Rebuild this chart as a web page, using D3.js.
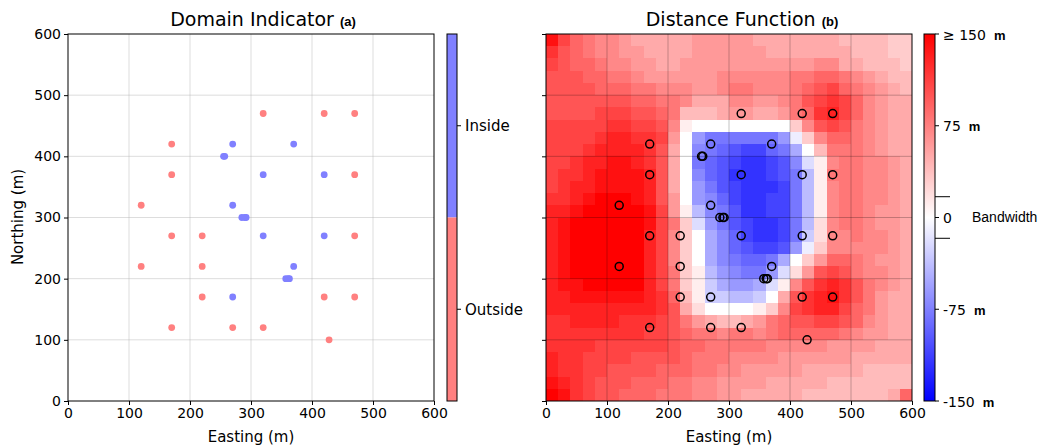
<!DOCTYPE html>
<html>
<head>
<meta charset="utf-8">
<script src="https://cdn.jsdelivr.net/npm/d3@7"></script>
<style>
  body { margin: 0; background: #fff; }
  text { font-family: "DejaVu Sans", sans-serif; fill: #000; }
</style>
</head>
<body>
<svg id="chart" width="1043" height="448"></svg>
<script>
// ---- sample locations (metres) and their domain classification ----
const sampleEasting  = [320, 420, 470, 170, 170, 470, 120, 170, 220, 470, 120, 220, 220, 420, 470, 170, 270, 320, 428,
                        270, 370, 255, 257, 320, 420, 270, 285, 290, 292, 320, 420, 370, 357, 361, 363, 270];
const sampleNorthing = [470, 470, 470, 420, 370, 370, 320, 270, 270, 270, 220, 220, 170, 170, 170, 120, 120, 120, 100,
                        420, 420, 400, 400, 370, 370, 320, 300, 300, 300, 270, 270, 220, 200, 200, 200, 170];
const sampleDomain   = ["Outside", "Outside", "Outside", "Outside", "Outside", "Outside", "Outside", "Outside", "Outside",
                        "Outside", "Outside", "Outside", "Outside", "Outside", "Outside", "Outside", "Outside", "Outside", "Outside",
                        "Inside", "Inside", "Inside", "Inside", "Inside", "Inside", "Inside", "Inside", "Inside", "Inside",
                        "Inside", "Inside", "Inside", "Inside", "Inside", "Inside", "Inside"];

// ---- axis ticks ----
const eastingTicks  = [0, 100, 200, 300, 400, 500, 600];
const northingTicks = [0, 100, 200, 300, 400, 500, 600];
const domainCategories = ["Inside", "Outside"];
const distanceTicks = [150, 75, 0, -75, -150];
const distanceTickLabels = ["\u2265 150", "75", "0", "-75", "-150"];
const bandwidth = 17;

// ---- signed distance grid, rows from north (600 m) to south (0 m), 20 m cells ----
// '0'-'9','A'-'F' = 0..150 m in 10 m steps (outside); 'a'-'o' = -10..-150 m (inside)
const distanceRows = [
  "EB987765555566666555" + "5555444433",
  "CA987766555566666655" + "5555544433",
  "BA998776655666666666" + "6677554443",
  "AAA99887666666777777" + "8899876544",
  "AAAA9998877766788777" + "89AB987654",
  "AAAAAAA9988755577667" + "8ABCB97655",
  "AAAABBBAA98444566556" + "89CDB97655",
  "BBBBBCCBBA7100000000" + "37ABA87655",
  "BBBBCDDCCB60fhhhhhhf" + "a379987655",
  "BBBCDDDDCA50ghijkkih" + "e048887655",
  "BBCDDEEDCA50hijkllkj" + "gb17887765",
  "BCCDEEEEDA50gijlllkj" + "hd18887765",
  "BCDDEEEEDA50fhjklllk" + "hd17887765",
  "CCDEFFFEDA60fgikllkk" + "hd17887765",
  "DDEFFFFFEB61dghjllkk" + "hd17887665",
  "DEFFFFFFEB83bfhjkllk" + "hd27887665",
  "DEFFFFFFDB730egikllk" + "hc27787765",
  "DEFFFFFFDB730egijkkj" + "fa37777765",
  "DEFFFFFFDB730eghiihe" + "0369987665",
  "DEFFFFFFDB831dfghhfb" + "26ABA87765",
  "DEEFFFFFDB831ceffeb1" + "7ACDCA8765",
  "DDEEEEEEDC941ccddc05" + "ACDECA8655",
  "DDDDDDDDDCA520000137" + "BCDDB98655",
  "CCDDDDCCCBA865445689" + "AABBA97655",
  "CCCCCCCCBBA988788789" + "9999876655",
  "CCCCBBBBBBA998888877" + "7776666555",
  "DCCBBBBAAAA988877776" + "6666655555",
  "DCCBBAAAA99988776666" + "6555554444",
  "EDCBAAA9998877666655" + "5554444444",
  "FECBAA99988877665555" + "5444444459"
];

function decodeDistance(ch) {
  if (/[0-9A-F]/.test(ch)) return parseInt(ch, 16) * 10;
  return -(ch.charCodeAt(0) - 96) * 10;
}

// ---- layout ----
const svg = d3.select("#chart");
const plotTop = 34, plotBottom = 401;
const panelA = { left: 68, right: 434 };
const panelB = { left: 546, right: 912 };
const tickFont = 14;

const yScale = d3.scaleLinear().domain([0, 600]).range([plotBottom, plotTop]);
const xA = d3.scaleLinear().domain([0, 600]).range([panelA.left, panelA.right]);
const xB = d3.scaleLinear().domain([0, 600]).range([panelB.left, panelB.right]);

const domainColor = d3.scaleOrdinal().domain(domainCategories).range(["#8080ff", "#ff8080"]);
const distColor = d3.scaleLinear().domain([-150, 0, 150])
  .range(["#0000ff", "#ffffff", "#ff0000"]).clamp(true);

function styleAxis(g) {
  g.select(".domain").remove();
  g.selectAll(".tick line").attr("stroke", "#000").attr("stroke-width", 1);
  g.selectAll(".tick text").style("font-size", tickFont + "px").style("font-family", "DejaVu Sans");
}

function drawAxes(x, withYLabels) {
  svg.append("g").attr("transform", `translate(0,${plotBottom})`)
    .call(d3.axisBottom(x).tickValues(eastingTicks).tickSize(4).tickPadding(3))
    .call(styleAxis);
  const ax = d3.axisLeft(yScale).tickValues(northingTicks).tickSize(4).tickPadding(3);
  if (!withYLabels) ax.tickFormat("");
  svg.append("g").attr("transform", `translate(${x.range()[0]},0)`)
    .call(ax).call(styleAxis);
}

function drawGrid(x, color, opacity) {
  const g = svg.append("g").attr("stroke", color).attr("stroke-opacity", opacity).attr("stroke-width", 0.8);
  eastingTicks.slice(1, -1).forEach(v => {
    g.append("line").attr("x1", x(v)).attr("x2", x(v)).attr("y1", plotTop).attr("y2", plotBottom);
  });
  northingTicks.slice(1, -1).forEach(v => {
    g.append("line").attr("x1", x.range()[0]).attr("x2", x.range()[1]).attr("y1", yScale(v)).attr("y2", yScale(v));
  });
}

function drawFrame(x) {
  svg.append("rect").attr("x", x.range()[0]).attr("y", plotTop)
    .attr("width", x.range()[1] - x.range()[0]).attr("height", plotBottom - plotTop)
    .attr("fill", "none").attr("stroke", "#000").attr("stroke-width", 1);
}

function drawTitle(cx, main, tag) {
  const t = svg.append("text").attr("x", cx).attr("y", 26).attr("text-anchor", "middle");
  t.append("tspan").style("font-size", "19px").text(main);
  t.append("tspan").attr("dx", 6).style("font-size", "13px").style("font-weight", "bold")
    .style("font-family", "Liberation Sans, Arial, sans-serif").text(tag);
}

const samples = sampleEasting.map((e, i) => ({ e, n: sampleNorthing[i], d: sampleDomain[i] }));

// ================= panel (a): domain indicator =================
drawGrid(xA, "#b0b0b0", 0.55);
svg.append("g").selectAll("circle").data(samples).join("circle")
  .attr("cx", d => xA(d.e)).attr("cy", d => yScale(d.n)).attr("r", 3.4)
  .attr("fill", d => domainColor(d.d));
drawFrame(xA);
drawAxes(xA, true);
drawTitle(263, "Domain Indicator", "(a)");

svg.append("text").attr("x", 251).attr("y", 442).attr("text-anchor", "middle")
  .style("font-size", "15px").text("Easting (m)");
svg.append("text").attr("transform", "translate(23,217) rotate(-90)").attr("text-anchor", "middle")
  .style("font-size", "15px").text("Northing (m)");

// categorical colour bar
const cbA = { left: 447, right: 457 };
const band = d3.scaleBand().domain(domainCategories).range([plotTop, plotBottom]);
svg.append("g").selectAll("rect").data(domainCategories).join("rect")
  .attr("x", cbA.left).attr("y", d => band(d)).attr("width", cbA.right - cbA.left)
  .attr("height", band.bandwidth()).attr("fill", d => domainColor(d));
svg.append("rect").attr("x", cbA.left).attr("y", plotTop).attr("width", cbA.right - cbA.left)
  .attr("height", plotBottom - plotTop).attr("fill", "none").attr("stroke", "#000");
domainCategories.forEach(c => {
  const yc = band(c) + band.bandwidth() / 2;
  svg.append("line").attr("x1", cbA.right).attr("x2", cbA.right + 4).attr("y1", yc).attr("y2", yc).attr("stroke", "#000");
  svg.append("text").attr("x", cbA.right + 8).attr("y", yc).attr("dy", "0.35em")
    .style("font-size", "15px").text(c);
});

// ================= panel (b): distance function =================
svg.append("clipPath").attr("id", "clipB").append("rect")
  .attr("x", panelB.left).attr("y", plotTop).attr("width", panelB.right - panelB.left).attr("height", plotBottom - plotTop);
const heat = svg.append("g").attr("clip-path", "url(#clipB)").attr("shape-rendering", "crispEdges");
const nCols = distanceRows[0].length, nRows = distanceRows.length;
const cellE = 600 / nCols, cellN = 600 / nRows;
const cells = [];
distanceRows.forEach((row, ri) => {
  for (let ci = 0; ci < nCols; ci++) {
    cells.push({ e0: ci * cellE, n1: 600 - ri * cellN, v: decodeDistance(row[ci]) });
  }
});
heat.selectAll("rect").data(cells).join("rect")
  .attr("x", d => xB(d.e0)).attr("y", d => yScale(d.n1))
  .attr("width", d => xB(d.e0 + cellE) - xB(d.e0) + 0.7)
  .attr("height", d => yScale(d.n1 - cellN) - yScale(d.n1) + 0.7)
  .attr("fill", d => distColor(d.v));

drawGrid(xB, "#000", 0.3);
svg.append("g").selectAll("circle").data(samples).join("circle")
  .attr("cx", d => xB(d.e)).attr("cy", d => yScale(d.n)).attr("r", 4)
  .attr("fill", "none").attr("stroke", "#000").attr("stroke-width", 1.5);
drawFrame(xB);
drawAxes(xB, false);
drawTitle(742, "Distance Function", "(b)");
svg.append("text").attr("x", 729).attr("y", 442).attr("text-anchor", "middle")
  .style("font-size", "15px").text("Easting (m)");

// continuous colour bar
const cbB = { left: 924, right: 935 };
const cbScale = d3.scaleLinear().domain([-150, 150]).range([plotBottom, plotTop]);
const grad = svg.append("defs").append("linearGradient").attr("id", "distGrad")
  .attr("x1", 0).attr("y1", 1).attr("x2", 0).attr("y2", 0);
d3.range(-150, 151, 30).forEach(v => {
  grad.append("stop").attr("offset", (v + 150) / 300).attr("stop-color", distColor(v));
});
svg.append("rect").attr("x", cbB.left).attr("y", plotTop).attr("width", cbB.right - cbB.left)
  .attr("height", plotBottom - plotTop).attr("fill", "url(#distGrad)").attr("stroke", "#000");

distanceTicks.forEach((v, i) => {
  const yc = cbScale(v);
  svg.append("line").attr("x1", cbB.right).attr("x2", cbB.right + 4).attr("y1", yc).attr("y2", yc).attr("stroke", "#000");
  const t = svg.append("text").attr("x", cbB.right + 8).attr("y", yc).attr("dy", "0.35em");
  t.append("tspan").style("font-size", "14px").text(distanceTickLabels[i]);
  if (v !== 0) {
    t.append("tspan").attr("dx", 8).style("font-size", "13px").style("font-weight", "bold")
      .style("font-family", "Liberation Sans, Arial, sans-serif").text("m");
  }
});
[-bandwidth, bandwidth].forEach(v => {
  svg.append("line").attr("x1", cbB.right).attr("x2", cbB.right + 15)
    .attr("y1", cbScale(v)).attr("y2", cbScale(v)).attr("stroke", "#000");
});
svg.append("text").attr("x", 972).attr("y", cbScale(0)).attr("dy", "0.35em")
  .style("font-size", "14px").style("font-family", "Liberation Sans, Arial, sans-serif").text("Bandwidth");
</script>
</body>
</html>
